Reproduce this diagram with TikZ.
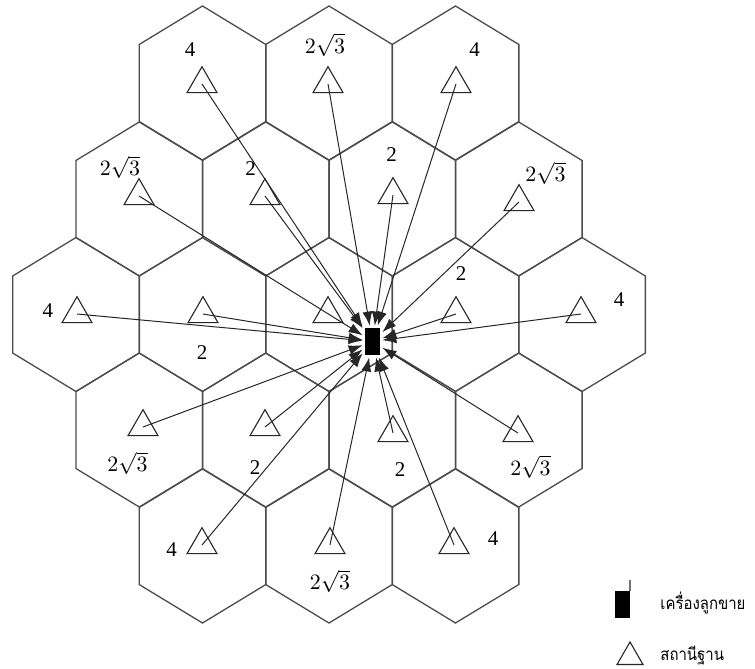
\documentclass[tikz,border=0pt]{standalone}
\usepackage{fontspec}
\setmainfont{Liberation Serif}
\newfontfamily\thaifont[Script=Thai,FakeStretch=0.88]{Loma}
\usetikzlibrary{shapes.geometric,arrows.meta}

\begin{document}
\begin{tikzpicture}[x=0.5pt,y=-0.5pt,
    cell/.style ={regular polygon, regular polygon sides=6, draw=black!70, line width=0.65pt, inner sep=0pt, minimum size=77pt, rotate=90, yscale=0.95},
    station/.style ={regular polygon, regular polygon sides=3, draw=black!85, line width=0.55pt, inner sep=0pt, minimum size=17.3pt},
    mobile/.style ={rectangle, fill=black, inner sep=0pt, minimum width=7.5pt, minimum height=13.5pt},
    dist/.style ={font=\fontsize{10.5}{12}\selectfont, inner sep=0pt},
    legend/.style ={anchor=base west, inner sep=0pt, font=\thaifont\fontsize{8.5}{10}\selectfont},
    link/.style ={draw=black!85, line width=0.5pt, -{Latex[length=7pt,width=5pt]}}]
   \useasboundingbox (0,0) rectangle (755,669);

   % cells
   \node[cell] (c11) at (202.5,83) {};
   \node[cell] (c12) at (329,83) {};
   \node[cell] (c13) at (455.5,83) {};

   \node[cell] (c21) at (139.25,199) {};
   \node[cell] (c22) at (265.75,199) {};
   \node[cell] (c23) at (392.25,199) {};
   \node[cell] (c24) at (518.75,199) {};

   \node[cell] (c31) at (76,314.5) {};
   \node[cell] (c32) at (202.5,314.5) {};
   \node[cell] (c33) at (329,314.5) {};
   \node[cell] (c34) at (455.5,314.5) {};
   \node[cell] (c35) at (582,314.5) {};

   \node[cell] (c41) at (139.25,430) {};
   \node[cell] (c42) at (265.75,430) {};
   \node[cell] (c43) at (392.25,430) {};
   \node[cell] (c44) at (518.75,430) {};

   \node[cell] (c51) at (202.5,546) {};
   \node[cell] (c52) at (329,546) {};
   \node[cell] (c53) at (455.5,546) {};

   % base stations
   \node[station] (s11) at (202,84) {};
   \node[station] (s12) at (328,84) {};
   \node[station] (s13) at (456,84) {};
   \node[station] (s21) at (139,196) {};
   \node[station] (s22) at (265,196) {};
   \node[station] (s23) at (393,195) {};
   \node[station] (s24) at (519,202) {};
   \node[station] (s31) at (77,314) {};
   \node[station] (s32) at (203,314) {};
   \node[station] (s33) at (328,314) {};
   \node[station] (s34) at (456,314) {};
   \node[station] (s35) at (581,314) {};
   \node[station] (s41) at (143,427) {};
   \node[station] (s42) at (265,427) {};
   \node[station] (s43) at (393,433) {};
   \node[station] (s44) at (518,433) {};
   \node[station] (s51) at (202,545) {};
   \node[station] (s52) at (330,545) {};
   \node[station] (s53) at (454,545) {};

   % distances
   \node[dist] (l11) at (190,50) {4};
   \node[dist] (l12) at (325,45) {$2\sqrt{3}$};
   \node[dist] (l13) at (474.5,50) {4};
   \node[dist] (l21) at (120,167.5) {$2\sqrt{3}$};
   \node[dist] (l22) at (250.5,169) {2};
   \node[dist] (l23) at (391.5,155) {2};
   \node[dist] (l24) at (545.5,173.5) {$2\sqrt{3}$};
   \node[dist] (l31) at (48,311) {4};
   \node[dist] (l32) at (202,353) {2};
   \node[dist] (l34) at (461,273.5) {2};
   \node[dist] (l35) at (619,300) {4};
   \node[dist] (l41) at (127.5,463.5) {$2\sqrt{3}$};
   \node[dist] (l42) at (255,468) {2};
   \node[dist] (l43) at (400,470) {2};
   \node[dist] (l44) at (530.5,467) {$2\sqrt{3}$};
   \node[dist] (l51) at (171.5,550) {4};
   \node[dist] (l52) at (330,581.5) {$2\sqrt{3}$};
   \node[dist] (l53) at (493,538.5) {4};

   % mobile
   \node[mobile, outer sep=1.2pt] (ms) at (372.5,341.5) {};

   \draw[link] (s11.center) to (ms);
   \draw[link] (s12.center) to (ms);
   \draw[link] (s13.center) to (ms);
   \draw[link] (s21.center) to (ms);
   \draw[link] (s22.center) to (ms);
   \draw[link] (s23.center) to (ms);
   \draw[link] (s24.center) to (ms);
   \draw[link] (s31.center) to (ms);
   \draw[link] (s32.center) to (ms);
   \draw[link] (s34.center) to (ms);
   \draw[link] (s35.center) to (ms);
   \draw[link] (s41.center) to (ms);
   \draw[link] (s42.center) to (ms);
   \draw[link] (s43.center) to (ms);
   \draw[link] (s44.center) to (ms);
   \draw[link] (s51.center) to (ms);
   \draw[link] (s52.center) to (ms);
   \draw[link] (s53.center) to (ms);

   % legend
   \node[mobile] (ml) at (622,604.5) {};
   \draw[black!55, line width=0.6pt] (ml.north east) -- ++(0,-11);
   \node[legend] (tm) at (660,609) {เครื่องลูกขาย};
   \node[station, minimum size=15pt] (sl) at (630,657) {};
   \node[legend] (ts) at (660,660) {สถานีฐาน};
 \end{tikzpicture}
\end{document}
